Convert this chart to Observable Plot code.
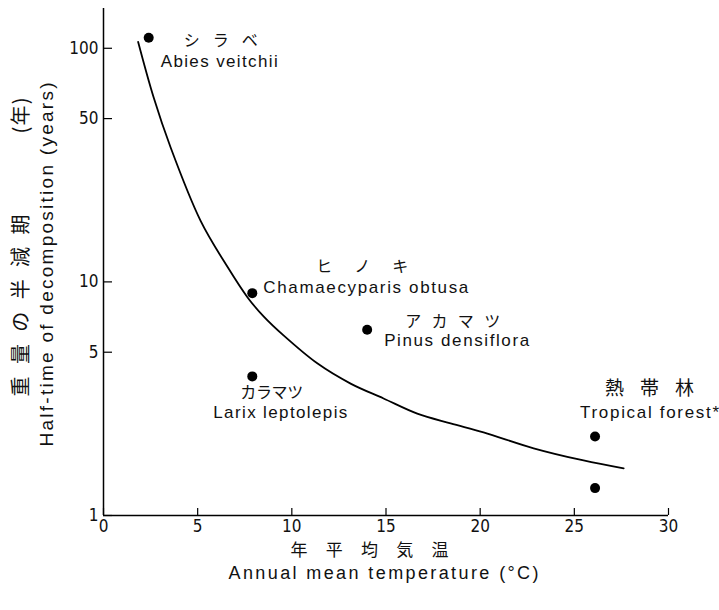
<!DOCTYPE html>
<html><head><meta charset="utf-8">
<script src="https://cdn.jsdelivr.net/npm/d3@7"></script>
<script src="https://cdn.jsdelivr.net/npm/@observablehq/plot@0.6"></script>
<style>body{margin:0;background:#fff}</style>
</head><body><div id="chart"></div>
<script>
// ---- data ----
const tempC    = [2.4, 7.9, 7.9, 14.0, 26.1, 26.1];
const halfLife = [111, 8.95, 3.94, 6.24, 2.18, 1.31];
const nameJa = ["シラベ", "ヒノキ", "カラマツ", "アカマツ", "熱帯林", ""];
const nameEn = ["Abies veitchii", "Chamaecyparis obtusa", "Larix leptolepis", "Pinus densiflora", "Tropical forest*", ""];
const curveTemp     = [1.84, 2.66, 3.56, 5.15, 6.59, 7.65, 8.50, 9.56, 11.35, 13.12, 14.87, 16.66, 18.43, 20.18, 22.84, 25.49, 27.62];
const curveHalfLife = [106.4, 61.7, 37.7, 18.3, 11.57, 8.58, 7.12, 5.90, 4.48, 3.67, 3.17, 2.73, 2.48, 2.27, 1.94, 1.72, 1.59];
const xTicks = [0, 5, 10, 15, 20, 25, 30];
const yTicks = [1, 5, 10, 50, 100];
const xTitleJa = "年平均気温";
const xTitleEn = "Annual mean temperature (°C)";
const yTitleJa = "重量の半減期";
const yTitleUnit = "(年)";
const yTitleEn = "Half-time of decomposition (years)";

// ---- layout / style ----
const W = 719, H = 610, mL = 103, mR = 51, mT = 8, mB = 95;
const latin = "Liberation Sans, Arial, sans-serif";
const narrow = "Liberation Sans Narrow, Arial Narrow, DejaVu Sans Condensed, sans-serif";
const cjk = "Noto Sans CJK JP, sans-serif";
// [dx, dy, textLength, fontSize]
const jaLayout = [[35, 3, 74, 16], [64, -26, 92, 16], [-12, 16, 63, 16], [38, -8, 95, 16], [10, -48, 89, 19]];
const enLayout = [[12, 24, 117, 17], [11, -6, 205, 17], [-39, 36, 134, 17], [17, 11, 145, 17], [-15, -24, 139, 17]];

const idx = d3.range(tempC.length);
const marks = [];
marks.push(Plot.ruleX([0], {stroke: "black", strokeWidth: 1.5}));
marks.push(Plot.ruleY([1], {stroke: "black", strokeWidth: 1.5}));
const fh = H - mT - mB, fw = W - mL - mR;
marks.push(Plot.tickY(yTicks, {y: d => d, insetRight: fw - 9, stroke: "black", strokeWidth: 1.2}));
marks.push(Plot.tickX(xTicks, {x: d => d, insetTop: fh - 7, stroke: "black", strokeWidth: 1.2}));
marks.push(Plot.axisY(yTicks, {anchor: "left", tickSize: 0, tickPadding: 5, fontSize: 17, fontFamily: narrow, tickFormat: d => String(d), fill: "#111"}));
marks.push(Plot.axisX(xTicks, {anchor: "bottom", tickSize: 0, tickPadding: 4, fontSize: 17, fontFamily: narrow, tickFormat: d => String(d), fill: "#111"}));
marks.push(Plot.line(curveTemp.map((t, i) => i), {x: i => curveTemp[i], y: i => curveHalfLife[i], curve: "catmull-rom", stroke: "black", strokeWidth: 1.8}));
marks.push(Plot.dot(idx, {x: i => tempC[i], y: i => halfLife[i], r: 5, fill: "black"}));
for (let i = 0; i < 5; i++) {
  const [jdx, jdy, , jfs] = jaLayout[i];
  const [edx, edy, , efs] = enLayout[i];
  marks.push(Plot.text([i], {x: j => tempC[j], y: j => halfLife[j], text: j => nameJa[j], dx: jdx, dy: jdy, textAnchor: "start", fontSize: jfs, fontFamily: cjk, fill: "#111", ariaDescription: "ja" + i}));
  marks.push(Plot.text([i], {x: j => tempC[j], y: j => halfLife[j], text: j => nameEn[j], dx: edx, dy: edy, textAnchor: "start", fontSize: efs, fontFamily: latin, fill: "#111", ariaDescription: "en" + i}));
}
const cx = mL + fw / 2, cy = mT + fh / 2;
const common = {textAnchor: "middle", lineAnchor: "middle", fill: "#111"};
marks.push(Plot.text([xTitleJa], {...common, frameAnchor: "bottom", dx: 369 - cx, dy: 35, fontSize: 17, fontFamily: cjk, ariaDescription: "xtj"}));
marks.push(Plot.text([xTitleEn], {...common, frameAnchor: "bottom", dx: 383 - cx, dy: 58, fontSize: 18, fontFamily: latin, ariaDescription: "xte"}));
marks.push(Plot.text([yTitleJa], {...common, frameAnchor: "left", rotate: -90, dx: 21 - mL, dy: 305 - cy, fontSize: 20, fontFamily: cjk, ariaDescription: "ytj"}));
marks.push(Plot.text([yTitleUnit], {...common, frameAnchor: "left", rotate: -90, dx: 21 - mL, dy: 115 - cy, fontSize: 20, fontFamily: cjk, ariaDescription: "ytu"}));
marks.push(Plot.text([yTitleEn], {...common, frameAnchor: "left", rotate: -90, dx: 46 - mL, dy: 264 - cy, fontSize: 19, fontFamily: latin, ariaDescription: "yte"}));

const svg = Plot.plot({
  width: W, height: H,
  marginLeft: mL, marginRight: mR, marginTop: mT, marginBottom: mB,
  x: {domain: [0, 30]},
  y: {type: "log", domain: [1, 148]},
  style: {background: "white", color: "black"},
  marks
});
document.getElementById("chart").appendChild(svg);

function fit(label, len) {
  d3.select(svg).selectAll(`g[aria-description="${label}"] text`).each(function () {
    this.setAttribute("textLength", len);
    this.setAttribute("lengthAdjust", "spacing");
  });
}
for (let i = 0; i < 5; i++) { fit("ja" + i, jaLayout[i][2]); fit("en" + i, enLayout[i][2]); }
fit("xtj", 158); fit("xte", 310); fit("ytj", 182); fit("ytu", 36); fit("yte", 364);
</script>
</body></html>
